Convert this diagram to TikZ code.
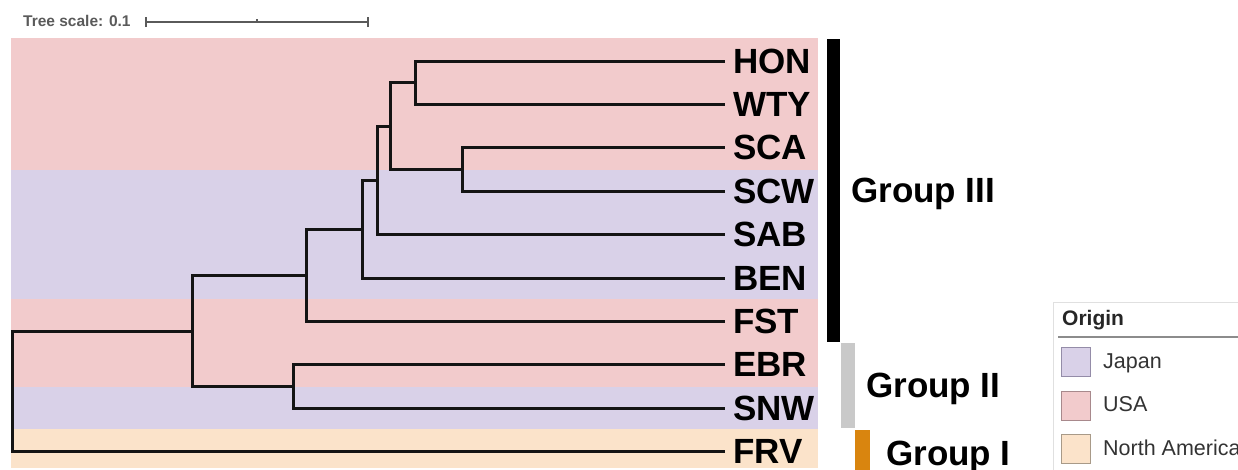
\documentclass[tikz,border=0pt]{standalone}
\usepackage{fontspec}
\setmainfont{Liberation Sans}
\definecolor{bandusa}{HTML}{F2CBCC}
\definecolor{bandjp}{HTML}{D9D1E8}
\definecolor{bandna}{HTML}{FBE3CA}
\definecolor{edgeusa}{HTML}{A8898C}
\definecolor{edgejp}{HTML}{948CA8}
\definecolor{edgena}{HTML}{A89A88}
\definecolor{grpone}{HTML}{D9850F}
\definecolor{grptwo}{HTML}{C9C9C9}
\definecolor{scalegray}{HTML}{5A5A5A}
\tikzset{
  branch/.style={draw=black!92, line width=3pt},
  leaf/.style={anchor=west, inner xsep=8pt, inner ysep=0pt, text height=25pt, text depth=0pt,
    font=\fontsize{35}{40}\selectfont\bfseries},
  grplabel/.style={anchor=base west, inner sep=0pt, font=\fontsize{35}{40}\selectfont\bfseries},
  legtext/.style={anchor=base west, inner sep=0pt, font=\fontsize{21.5}{24}\selectfont, text=black!80},
  swatch/.style={minimum width=29pt, minimum height=29pt, inner sep=0pt, line width=1pt, anchor=north west},
}
\begin{document}
\begin{tikzpicture}[x=1pt,y=-1pt]
\useasboundingbox (0,0) rectangle (1238,469);
% background bands
\fill[bandusa] (11,38) rectangle (818,170);
\fill[bandjp] (11,170) rectangle (818,299);
\fill[bandusa] (11,299) rectangle (818,387);
\fill[bandjp] (11,387) rectangle (818,429);
\fill[bandna] (11,429) rectangle (818,468);
% scale
\node[anchor=base west, inner sep=0pt, text=scalegray, font=\fontsize{15.5}{18}\selectfont\bfseries] (scaletxt) at (23,26) {Tree scale: 0.1};
\coordinate (sbl) at (146,22);
\coordinate (sbr) at (368,22);
\coordinate (sbm) at (257,22);
\draw[scalegray, line width=1.8pt] (sbl) -- (sbr);
\draw[scalegray, line width=1.4pt] ([yshift=-5pt]sbl) -- ([yshift=5pt]sbl);
\draw[scalegray, line width=1.4pt] ([yshift=-5pt]sbr) -- ([yshift=5pt]sbr);
\draw[scalegray, line width=1.4pt] (sbm) -- ([yshift=3pt]sbm);
% leaves
\node[leaf] (HON) at (725,61) {HON};
\node[leaf] (WTY) at (725,104) {WTY};
\node[leaf] (SCA) at (725,147) {SCA};
\node[leaf] (SCW) at (725,191) {SCW};
\node[leaf] (SAB) at (725,234) {SAB};
\node[leaf] (BEN) at (725,278) {BEN};
\node[leaf] (FST) at (725,321) {FST};
\node[leaf] (EBR) at (725,364) {EBR};
\node[leaf] (SNW) at (725,408) {SNW};
\node[leaf] (FRV) at (725,451) {FRV};
% internal nodes
\coordinate (n1) at (415,82.5);
\coordinate (n3) at (462,169);
\coordinate (n2) at (390,126);
\coordinate (n4) at (377,180);
\coordinate (n5) at (362,229);
\coordinate (n6) at (306,275);
\coordinate (n8) at (293,386);
\coordinate (n7) at (192,331);
\coordinate (root) at (12,391);
% branches
\draw[branch] (n1) |- (HON.west);
\draw[branch] (n1) |- (WTY.west);
\draw[branch] (n3) |- (SCA.west);
\draw[branch] (n3) |- (SCW.west);
\draw[branch] (n2) |- (n1);
\draw[branch] (n2) |- (n3);
\draw[branch] (n4) |- (n2);
\draw[branch] (n4) |- (SAB.west);
\draw[branch] (n5) |- (n4);
\draw[branch] (n5) |- (BEN.west);
\draw[branch] (n6) |- (n5);
\draw[branch] (n6) |- (FST.west);
\draw[branch] (n8) |- (EBR.west);
\draw[branch] (n8) |- (SNW.west);
\draw[branch] (n7) |- (n6);
\draw[branch] (n7) |- (n8);
\draw[branch] (root) |- (n7);
\draw[branch] (root) |- (FRV.west);
% group bars
\fill[black] (827,39) rectangle (840,342);
\fill[grptwo] (841,343) rectangle (855,428);
\fill[grpone] (855,430) rectangle (870,475);
\node[grplabel] (g3) at (851,202) {Group III};
\node[grplabel] (g2) at (866,397) {Group II};
\node[grplabel] (g1) at (886,465) {Group I};
% legend
\draw[black!12, line width=1pt] (1053,302) rectangle (1250,480);
\node[anchor=base west, inner sep=0pt, font=\fontsize{21}{24}\selectfont\bfseries, text=black!85] (origin) at (1062,325) {Origin};
\draw[black!45, line width=1.2pt] (1058,337) -- (1245,337);
\node[swatch, fill=bandjp, draw=edgejp] (swjp) at (1061,347) {};
\node[swatch, fill=bandusa, draw=edgeusa] (swusa) at (1061,391) {};
\node[swatch, fill=bandna, draw=edgena] (swna) at (1061,434) {};
\node[legtext] (ljp) at (1103,368) {Japan};
\node[legtext] (lusa) at (1103,411) {USA};
\node[legtext] (lna) at (1103,455) {North America};
\end{tikzpicture}
\end{document}
